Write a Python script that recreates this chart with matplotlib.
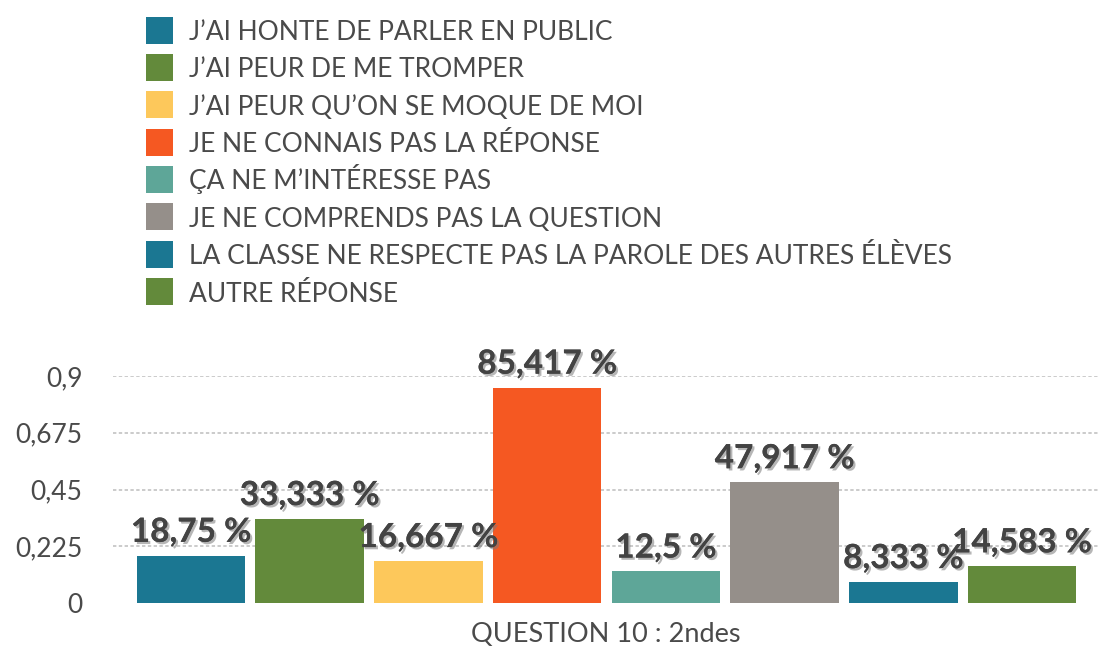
import matplotlib
matplotlib.use("Agg")
import matplotlib.pyplot as plt
import matplotlib.patheffects as pe
from matplotlib.patches import Rectangle

categories = [
    "J’AI HONTE DE PARLER EN PUBLIC",
    "J’AI PEUR DE ME TROMPER",
    "J’AI PEUR QU’ON SE MOQUE DE MOI",
    "JE NE CONNAIS PAS LA RÉPONSE",
    "ÇA NE M’INTÉRESSE PAS",
    "JE NE COMPRENDS PAS LA QUESTION",
    "LA CLASSE NE RESPECTE PAS LA PAROLE DES AUTRES ÉLÈVES",
    "AUTRE RÉPONSE",
]
values = [0.1875, 0.33333, 0.16667, 0.85417, 0.125, 0.47917, 0.08333, 0.14583]
value_labels = ["18,75 %", "33,333 %", "16,667 %", "85,417 %", "12,5 %", "47,917 %", "8,333 %", "14,583 %"]
colors = ["#1B7792", "#638A3B", "#FDC85B", "#F55822", "#5EA698", "#958F8A", "#1B7792", "#638A3B"]
yticks = [0, 0.225, 0.45, 0.675, 0.9]
ytick_labels = ["0", "0,225", "0,45", "0,675", "0,9"]
xlabel = "QUESTION 10 : 2ndes"

plt.rcParams["font.family"] = ["Lato", "DejaVu Sans"]
text_color = "#4a4a4a"

W, H = 1100, 649
fig = plt.figure(figsize=(W / 100, H / 100), dpi=100)
ax = fig.add_axes([113 / W, (H - 603) / H, (1098 - 113) / W, (603 - 376) / H])

x = list(range(len(values)))
ax.bar(x, values, width=0.915, color=colors, zorder=2)
ax.set_xlim(-0.657, 7.64)
ax.set_ylim(0, 0.9)

for s in ax.spines.values():
    s.set_visible(False)
ax.set_xticks([])
ax.set_yticks(yticks)
ax.set_yticklabels(ytick_labels, fontsize=19, color=text_color)
ax.tick_params(axis="y", length=0, pad=22)
for yv in yticks[1:]:
    ax.axhline(yv, color="#BDBDBD", lw=1.1, linestyle=(0, (2.2, 1.6)), zorder=1)

shadow = [pe.withSimplePatchShadow(offset=(1.6, -1.6), shadow_rgbFace="#7a7a7a", alpha=0.55), pe.Normal()]
for xi, v, lab in zip(x, values, value_labels):
    ax.annotate(lab, (xi, v), xytext=(0, 10), textcoords="offset points",
                ha="center", va="baseline", fontsize=24, fontweight="bold",
                color="#434343", path_effects=shadow, clip_on=False, zorder=3)

ax.set_xlabel(xlabel, fontsize=19.5, color=text_color, labelpad=14)

# legend: swatch + label rows
row0, row_step, sq = 30, 37.4, 27
for i, (lab, c) in enumerate(zip(categories, colors)):
    yc = row0 + i * row_step
    fig.patches.append(Rectangle((146 / W, 1 - (yc + sq / 2) / H), sq / W, sq / H,
                                 transform=fig.transFigure, facecolor=c, edgecolor="none"))
    fig.text(189 / W, 1 - (yc + 9.8) / H, lab, fontsize=19, color=text_color,
             ha="left", va="baseline")

fig.savefig("out.png", dpi=100)
